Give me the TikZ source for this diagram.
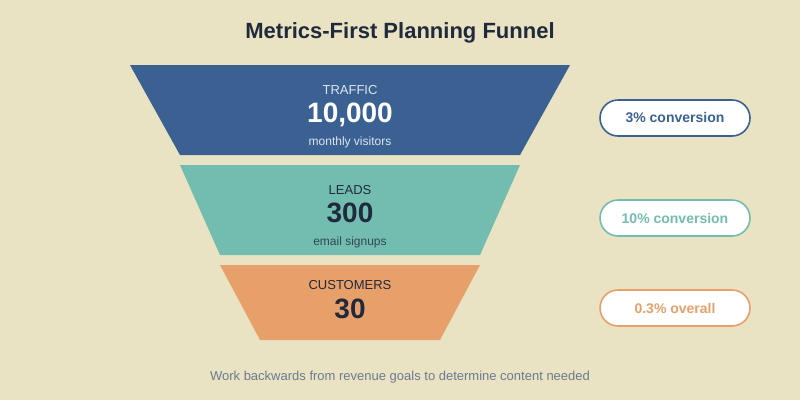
\documentclass[tikz,border=0pt]{standalone}
\usepackage{fontspec}
\setmainfont{Liberation Sans}
\definecolor{bgc}{HTML}{E9E3C3}
\definecolor{blu}{HTML}{3A6192}
\definecolor{tea}{HTML}{73BDB0}
\definecolor{ora}{HTML}{E8A06A}
\definecolor{ink}{HTML}{1F2A3C}
\definecolor{foot}{HTML}{6B7A90}
\definecolor{pale}{HTML}{DCE6F0}
\tikzset{
  txt/.style={anchor=base, inner sep=0pt},
  lab/.style={txt, font=\fontsize{13}{15}\selectfont},
  big/.style={txt, font=\fontsize{28}{32}\selectfont\bfseries},
  sub/.style={txt, font=\fontsize{12}{14}\selectfont},
  pill/.style={draw=#1, line width=1.6pt, fill=white, rounded corners=18pt, minimum width=150pt, minimum height=36pt, inner sep=0pt, text=#1, font=\fontsize{14}{16}\selectfont\bfseries}
}
\begin{document}
\begin{tikzpicture}[x=1pt,y=-1pt]
\fill[bgc] (0,0) rectangle (800,400);
\useasboundingbox (0,0) rectangle (800,400);
\node[txt, text=ink, font=\fontsize{22}{26}\selectfont\bfseries] (title) at (400,38) {Metrics-First Planning Funnel};
% stages
\fill[blu] (130,65) -- (570,65) -- (520,155) -- (180,155) -- cycle;
\fill[tea] (180,165) -- (520,165) -- (480,255) -- (220,255) -- cycle;
\fill[ora] (220,265) -- (480,265) -- (440,340) -- (260,340) -- cycle;
\node[lab, text=pale] (t1) at (350,94.5) {TRAFFIC};
\node[big, text=white] (n1) at (350,122) {10,000};
\node[sub, text=pale] (s1) at (350,145) {monthly visitors};
\node[lab, text=ink] (t2) at (350,194.5) {LEADS};
\node[big, text=ink] (n2) at (350,222) {300};
\node[sub, text=ink!80!tea] (s2) at (350,245) {email signups};
\node[lab, text=ink] (t3) at (350,289.5) {CUSTOMERS};
\node[big, text=ink] (n3) at (350,318) {30};
% pills
\node[pill=blu] (p1) at (675,118) {3\% conversion};
\node[pill=tea] (p2) at (675,218) {10\% conversion};
\node[pill=ora] (p3) at (675,308) {0.3\% overall};
\node[txt, text=foot, font=\fontsize{13}{15}\selectfont] (ft) at (400,380.5) {Work backwards from revenue goals to determine content needed};
\end{tikzpicture}
\end{document}
